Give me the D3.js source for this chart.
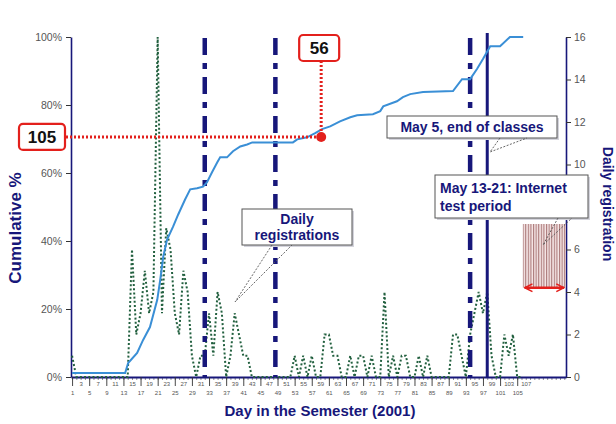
<!DOCTYPE html>
<html>
<head>
<meta charset="utf-8">
<script src="https://cdn.jsdelivr.net/npm/d3@7"></script>
<style>
  body { margin: 0; background: #fff; }
  svg { display: block; }
  text { font-family: Arial, "Liberation Sans", sans-serif; }
</style>
</head>
<body>
<svg id="chart" width="616" height="424"></svg>
<script>
// Daily registrations, one value per day starting at day 1
const dailyRegistrations = [
  1, 0, 0, 0, 0, 0, 0, 0, 0, 0, 0, 0, 0, 0, 6, 2, 3, 5, 3, 4,
  16, 3, 7, 6, 3, 2, 5, 4, 1, 0, 1, 1, 3, 1, 4, 3, 0, 1, 3, 2,
  1, 1, 0, 0, 0, 0, 0, 0, 0, 0, 0, 0, 1, 0, 1, 0, 1, 0, 0, 2,
  2, 1, 1, 0, 0, 1, 0, 1, 1, 0, 1, 0, 0, 4, 0, 1, 0, 1, 1, 0,
  0, 1, 0, 1, 0, 0, 0, 0, 0, 2, 2, 1, 0, 2, 3, 4, 3, 4, 1, 0,
  0, 2, 1, 2, 0, 0
];

// Cumulative share of registrations (%) by day
const cumulativeDays = [
  1, 13.4, 14.1, 16.2, 17.6, 19.2, 20.9, 21.6, 22.3, 23.2, 24.6, 25.8, 27.4,
  28.6, 30.2, 31.6, 32.5, 33.7, 34.9, 35.6, 37.2, 38.6, 40.3, 41.9, 43.1,
  52.6, 53.6, 55.9, 57.8, 59.4, 61.3, 63.6, 66, 67.6, 71.3, 73, 73.7, 76.9,
  78.3, 80, 83, 90, 92.1, 94, 95.6, 97, 98.7, 101, 103.3, 106.4
];
const cumulativePercent = [
  1.2, 1.2, 4.1, 7.1, 10.9, 14.7, 22.7, 28.6, 35.4, 40.4, 44.2, 47.8, 52.2,
  55.2, 55.5, 56, 57.2, 60.2, 63.1, 64.6, 64.6, 66.4, 67.8, 68.4, 69,
  69, 69.9, 70.5, 71.7, 72.9, 73.7, 75.2, 76.4, 77, 77.3, 78.2, 79.6, 81.1,
  82.3, 83.2, 83.8, 84.1, 87.6, 87.6, 90.6, 93.5, 97.3, 97.3, 100, 100
];

// Axis ticks
const leftTicks = [0, 20, 40, 60, 80, 100];
const rightTicks = [0, 2, 4, 6, 8, 10, 12, 14, 16];
const lowerDayLabels = [1, 5, 9, 13, 17, 21, 25, 29, 33, 37, 41, 45, 49, 53, 57, 61, 65, 69, 73, 77, 81, 85, 89, 93, 97, 101, 105];
const upperDayLabels = [3, 7, 11, 15, 19, 23, 27, 31, 35, 39, 43, 47, 51, 55, 59, 63, 67, 71, 75, 79, 83, 87, 91, 95, 99, 103, 107];
const minorTickDays = d3.range(1, 117);

// Reference days
const dashDotDays = [32, 48.5, 94];
const endOfClassesDay = 98;
const testPeriodDays = [106.3, 116.4];
const testPeriodLevels = [4.2, 7.2];
const highlightPoint = { day: 59.2, pct: 70.6 };
const highlightLabels = ["56", "105"];

const svg = d3.select("#chart");
const navy = "#17177a";
const plot = { left: 71, right: 566, top: 37, bottom: 377 };

const x = d3.scaleLinear().domain([0.75, 116.4]).range([plot.left, plot.right]);
const yL = d3.scaleLinear().domain([0, 100]).range([plot.bottom, plot.top]);
const yR = d3.scaleLinear().domain([0, 16]).range([plot.bottom, plot.top]);

// stripe pattern for the test period block
const defs = svg.append("defs");
const pat = defs.append("pattern").attr("id", "stripes")
  .attr("patternUnits", "userSpaceOnUse").attr("width", 2.6).attr("height", 10);
pat.append("rect").attr("width", 2.6).attr("height", 10).attr("fill", "#f4e2e2");
pat.append("rect").attr("x", 0).attr("width", 1.1).attr("height", 10).attr("fill", "#9c6262");
const mk = (id, orient) => defs.append("marker").attr("id", id)
  .attr("viewBox", "0 0 10 10").attr("refX", 9).attr("refY", 5)
  .attr("markerWidth", 4).attr("markerHeight", 4).attr("orient", orient)
  .append("path").attr("d", "M1,1 L9,5 L1,9").attr("fill", "none")
  .attr("stroke", "#e3201c").attr("stroke-width", 1.6);
mk("arrEnd", "auto");
mk("arrStart", "auto-start-reverse");

// ---- axes ----
function styleAxis(g) {
  g.selectAll("path").attr("stroke", navy).attr("stroke-width", 1.6);
  g.selectAll("line").attr("stroke", "#333");
}

const axL = svg.append("g").attr("transform", `translate(${plot.left},0)`)
  .call(d3.axisLeft(yL).tickValues(leftTicks).tickFormat(d => d + "%").tickSize(5).tickSizeOuter(0).tickPadding(4));
styleAxis(axL);
axL.selectAll("text").attr("font-size", 10.5).attr("fill", "#555");

const axR = svg.append("g").attr("transform", `translate(${plot.right},0)`)
  .call(d3.axisRight(yR).tickValues(rightTicks).tickSize(5).tickSizeOuter(0).tickPadding(3));
styleAxis(axR);
axR.selectAll("text").attr("font-size", 10.5).attr("fill", "#555");

const axMinor = svg.append("g").attr("transform", `translate(0,${plot.bottom})`)
  .call(d3.axisBottom(x).tickValues(minorTickDays).tickSize(3).tickSizeOuter(0).tickFormat(""));
axMinor.select("path").remove();
axMinor.selectAll("line").attr("stroke", "#444").attr("stroke-width", 0.6);

const axUpper = svg.append("g").attr("transform", `translate(0,${plot.bottom})`)
  .call(d3.axisBottom(x).tickValues(upperDayLabels).tickSize(3).tickSizeOuter(0).tickPadding(2));
axUpper.select("path").remove();
axUpper.selectAll("line").remove();
axUpper.selectAll("text").attr("font-size", 6).attr("fill", "#555");

const axLower = svg.append("g").attr("transform", `translate(0,${plot.bottom})`)
  .call(d3.axisBottom(x).tickValues(lowerDayLabels).tickSize(9).tickSizeOuter(0).tickPadding(5));
axLower.select("path").attr("stroke", navy).attr("stroke-width", 2.2);
axLower.selectAll("line").attr("stroke", "#333").attr("stroke-width", 0.9);
axLower.selectAll("text").attr("font-size", 6).attr("fill", "#555");

// axis titles
svg.append("text").attr("transform", `translate(21,228) rotate(-90)`)
  .attr("text-anchor", "middle").attr("font-size", 17).attr("font-weight", "bold")
  .attr("fill", navy).text("Cumulative %");
svg.append("text").attr("transform", `translate(603,204) rotate(90)`)
  .attr("text-anchor", "middle").attr("font-size", 14).attr("font-weight", "bold")
  .attr("fill", navy).text("Daily registration");
svg.append("text").attr("x", 320).attr("y", 416)
  .attr("text-anchor", "middle").attr("font-size", 15).attr("font-weight", "bold")
  .attr("fill", navy).text("Day in the Semester (2001)");

// ---- test period block ----
svg.append("rect")
  .attr("x", x(testPeriodDays[0])).attr("y", yR(testPeriodLevels[1]))
  .attr("width", x(testPeriodDays[1]) - x(testPeriodDays[0]))
  .attr("height", yR(testPeriodLevels[0]) - yR(testPeriodLevels[1]))
  .attr("fill", "url(#stripes)").attr("opacity", 0.85);
svg.append("line")
  .attr("x1", x(testPeriodDays[0]) + 2).attr("x2", x(testPeriodDays[1]) - 2)
  .attr("y1", yR(testPeriodLevels[0])).attr("y2", yR(testPeriodLevels[0]))
  .attr("stroke", "#e3201c").attr("stroke-width", 2.4)
  .attr("marker-start", "url(#arrStart)").attr("marker-end", "url(#arrEnd)");

// ---- daily registrations (dotted) ----
const dailyLine = d3.line().x((d, i) => x(i + 1)).y(d => yR(d));
svg.append("path").datum(dailyRegistrations)
  .attr("d", dailyLine).attr("fill", "none")
  .attr("stroke", "#22603f").attr("stroke-width", 2)
  .attr("stroke-dasharray", "2,2.2");

// ---- reference lines ----
svg.selectAll(".dd").data(dashDotDays).join("line")
  .attr("x1", d => x(d)).attr("x2", d => x(d))
  .attr("y1", plot.top + 1).attr("y2", plot.bottom)
  .attr("stroke", navy).attr("stroke-width", 4.5)
  .attr("stroke-dasharray", "17,8,6,8");
svg.append("line")
  .attr("x1", x(endOfClassesDay)).attr("x2", x(endOfClassesDay))
  .attr("y1", plot.top - 4).attr("y2", plot.bottom)
  .attr("stroke", navy).attr("stroke-width", 3);

// ---- cumulative % ----
const cumLine = d3.line().x(d => x(d[0])).y(d => yL(d[1]));
svg.append("path").datum(cumulativeDays.map((d, i) => [d, cumulativePercent[i]]))
  .attr("d", cumLine).attr("fill", "none")
  .attr("stroke", "#3a8fd6").attr("stroke-width", 2);

// ---- highlighted point with leader lines ----
const hx = x(highlightPoint.day), hy = yL(highlightPoint.pct);
const red = "#e3201c";
svg.append("line").attr("x1", 66).attr("x2", hx).attr("y1", hy).attr("y2", hy)
  .attr("stroke", red).attr("stroke-width", 3).attr("stroke-dasharray", "2,2");
svg.append("line").attr("x1", hx).attr("x2", hx).attr("y1", 61).attr("y2", hy)
  .attr("stroke", red).attr("stroke-width", 3).attr("stroke-dasharray", "2,2");
svg.append("circle").attr("cx", hx).attr("cy", hy).attr("r", 5).attr("fill", red);

function redBox(cx, cy, w, h, label) {
  svg.append("rect").attr("x", cx - w / 2).attr("y", cy - h / 2)
    .attr("width", w).attr("height", h).attr("rx", 4)
    .attr("fill", "#fff").attr("stroke", red).attr("stroke-width", 2.2);
  svg.append("text").attr("x", cx).attr("y", cy + 6)
    .attr("text-anchor", "middle").attr("font-size", 17).attr("font-weight", "bold")
    .attr("fill", "#111").text(label);
}
redBox(hx - 2, 48, 40, 26, highlightLabels[0]);
redBox(42, hy, 46, 26, highlightLabels[1]);

// ---- callouts ----
function callout(box, tail, lines) {
  svg.append("rect").attr("x", box[0] + 2).attr("y", box[1] + 2)
    .attr("width", box[2]).attr("height", box[3]).attr("fill", "#d4d4dc");
  svg.append("rect").attr("x", box[0]).attr("y", box[1])
    .attr("width", box[2]).attr("height", box[3])
    .attr("fill", "#fff").attr("stroke", "#555").attr("stroke-width", 1);
  svg.append("path").attr("d", `M${tail[0]},${tail[1]} L${tail[4]},${tail[5]} L${tail[2]},${tail[3]}`)
    .attr("fill", "none").attr("stroke", "#555").attr("stroke-width", 0.9)
    .attr("stroke-dasharray", "2,1.5");
  lines.forEach(l => {
    svg.append("text").attr("x", l.x).attr("y", l.y)
      .attr("text-anchor", l.anchor || "start")
      .attr("font-size", 14).attr("font-weight", "bold").attr("fill", navy).text(l.t);
  });
}
callout([242, 209, 110, 36], [272, 245, 292, 245, 235, 302], [
  { x: 297, y: 224, t: "Daily", anchor: "middle" },
  { x: 297, y: 240, t: "registrations", anchor: "middle" }
]);
callout([387, 116, 170, 22], [500, 138, 527, 138, 490, 152], [
  { x: 472, y: 132, t: "May 5, end of classes", anchor: "middle" }
]);
callout([435, 175, 153, 43], [558, 218, 572, 218, 543, 245], [
  { x: 440, y: 193, t: "May 13-21: Internet" },
  { x: 440, y: 211, t: "test period" }
]);
</script>
</body>
</html>
